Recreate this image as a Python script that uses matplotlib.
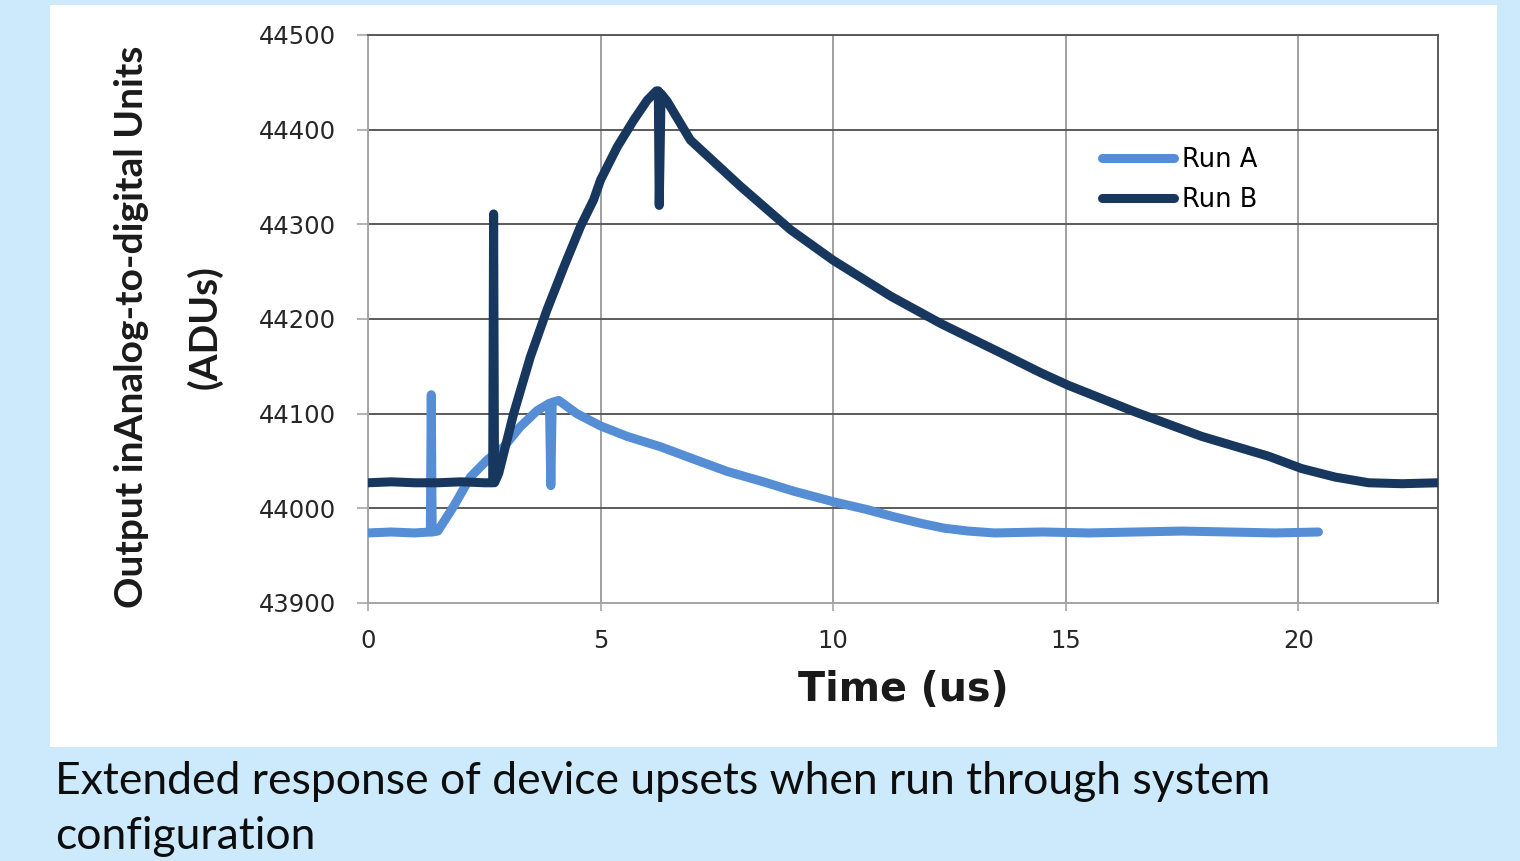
import matplotlib.pyplot as plt
from matplotlib.patches import Rectangle

# 數據
run_a_x = [0, 0.5, 1.0, 1.34, 1.36, 1.38, 1.5, 1.84, 2.2, 2.56, 2.92, 3.27, 3.63, 3.90,
           3.93, 3.96, 4.1, 4.49, 5.0, 5.57, 6.29, 7.0, 7.72, 8.5, 9.16, 10.0, 10.7,
           11.31, 11.9, 12.39, 12.9, 13.47, 14.5, 15.5, 16.5, 17.5, 18.5, 19.5, 20.43]
run_a_y = [43974, 43975, 43974, 43975, 44120, 43975, 43976, 44002, 44033, 44051, 44065,
           44086, 44103, 44111, 44024, 44112, 44114, 44100, 44087, 44076, 44065, 44052,
           44039, 44028, 44018, 44007, 43999, 43991, 43984, 43979, 43976, 43974, 43975,
           43974, 43975, 43976, 43975, 43974, 43975]

run_b_x = [0, 0.5, 1.0, 1.5, 2.0, 2.5, 2.68, 2.70, 2.72, 2.81, 3.13, 3.49, 3.85, 4.21,
           4.57, 4.85, 5.0, 5.36, 5.71, 6.0, 6.2, 6.24, 6.26, 6.3, 6.43, 6.93, 7.15, 8.01,
           9.09, 10.0, 11.24, 12.32, 13.61, 14.47, 15.05, 16.48, 17.92, 19.36, 20.07,
           20.79, 21.51, 22.23, 23.0]
run_b_y = [44027, 44028, 44027, 44027, 44028, 44027, 44027, 44311, 44027, 44037, 44100,
           44160, 44210, 44255, 44298, 44326, 44347, 44382, 44410, 44431, 44441, 44441,
           44320, 44438, 44430, 44389, 44379, 44340, 44294, 44262, 44224, 44195, 44164,
           44143, 44130, 44102, 44076, 44055, 44042, 44033, 44027, 44026, 44027]

x_ticks = [0, 5, 10, 15, 20]
y_ticks = [43900, 44000, 44100, 44200, 44300, 44400, 44500]

fig = plt.figure(figsize=(15.2, 8.61), dpi=100, facecolor='#cceafb')

# 白色面板
fig.patches.append(Rectangle((50 / 1520, 1 - 747 / 861), 1447 / 1520, 742 / 861,
                             transform=fig.transFigure, facecolor='white',
                             edgecolor='none', zorder=-1))

ax = fig.add_axes([368 / 1520, 1 - 603 / 861, 1070 / 1520, 568 / 861])
ax.set_facecolor('white')

ax.plot(run_a_x, run_a_y, color='#558ed5', lw=6.5, solid_joinstyle='round',
        solid_capstyle='round', label='Run A', zorder=3)
ax.plot(run_b_x, run_b_y, color='#17375e', lw=6.5, solid_joinstyle='round',
        solid_capstyle='round', label='Run B', zorder=4)

ax.set_xlim(0, 23)
ax.set_ylim(43900, 44500)
ax.set_xticks(x_ticks)
ax.set_yticks(y_ticks)

# 格線
ax.yaxis.grid(True, color='#5a5a5a', lw=1.4, zorder=1)
ax.xaxis.grid(True, color='#a0a0a0', lw=1.4, zorder=1)
ax.set_axisbelow(True)
ax.spines['left'].set_color('#a6a6a6')
ax.spines['bottom'].set_color('#a6a6a6')
ax.spines['top'].set_color('#5a5a5a')
ax.spines['right'].set_color('#5a5a5a')
for s in ax.spines.values():
    s.set_linewidth(1.4)

ax.tick_params(axis='y', direction='out', length=8, width=1.2, color='#a6a6a6',
               pad=15, labelsize=17.5, labelcolor='#262626')
ax.tick_params(axis='x', direction='out', length=6, width=1.2, color='#a6a6a6',
               pad=13, labelsize=17.5, labelcolor='#262626')

ax.set_xlabel('Time (us)', fontsize=28.5, fontweight='bold', labelpad=12, color='#1a1a1a')

fig.text(132 / 1520, 1 - 327 / 861, 'Output inAnalog-to-digital Units', rotation=90,
         ha='center', va='center', fontsize=28, fontweight='bold', family='Lato',
         color='#1a1a1a')
fig.text(205 / 1520, 1 - 327 / 861, '(ADUs)', rotation=90,
         ha='center', va='center', fontsize=28, fontweight='bold', family='Lato',
         color='#1a1a1a')

ax.legend(loc='center left', bbox_to_anchor=(0.686, 0.745), frameon=False,
          fontsize=18.5, handlelength=2.8, handletextpad=0.3, labelspacing=0.55,
          borderpad=0, borderaxespad=0)

fig.text(55 / 1520, 1 - 761 / 861,
         'Extended response of device upsets when run through system\nconfiguration',
         ha='left', va='top', fontsize=32, family='Lato', linespacing=1.42,
         color='#0d0d0d')

plt.savefig('out.png', dpi=100, facecolor=fig.get_facecolor())
